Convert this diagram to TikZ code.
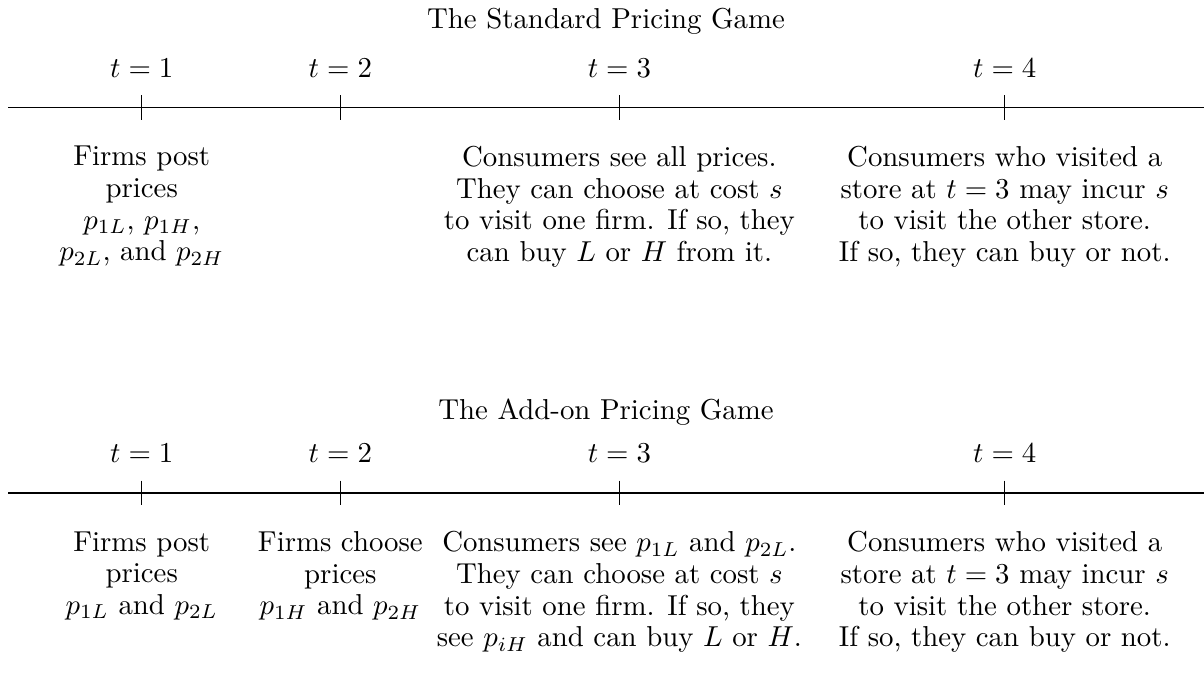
\documentclass[tikz,border=0pt]{standalone}
\usepackage{amsmath}
\usepackage{tikz}
\usetikzlibrary{positioning}

\begin{document}
\begin{tikzpicture}[
    every node/.style={align=center},
    stamp/.style={inner sep=0.333em},
    event/.style={anchor=north, align=center, font=\fontsize{10pt}{11pt}\selectfont},
    gametitle/.style={anchor=base},
    tickmark/.style={thin}
]
\useasboundingbox (-0.098,1.314) rectangle (14.59,-6.921);

% ---------- TOP TIMELINE (STANDARD GAME)
\node (std) [gametitle] at (7.295,0.97) {The Standard Pricing Game};

\coordinate (a0) at (0,0);
\coordinate (aEnd) at (14.59,0);
\coordinate (a1) at (1.631,0);
\coordinate (a2) at (4.054,0);
\coordinate (a3) at (7.458,0);
\coordinate (a4) at (12.159,0);

\draw[thin] (a0) -- (aEnd);
\draw[tickmark] ([yshift=0.15cm]a1) -- ([yshift=-0.15cm]a1);
\draw[tickmark] ([yshift=0.15cm]a2) -- ([yshift=-0.15cm]a2);
\draw[tickmark] ([yshift=0.15cm]a3) -- ([yshift=-0.15cm]a3);
\draw[tickmark] ([yshift=0.15cm]a4) -- ([yshift=-0.15cm]a4);

\node (la1) [stamp, above=0.245cm of a1] {$t=1$};
\node (la2) [stamp, above=0.245cm of a2] {$t=2$};
\node (la3) [stamp, above=0.245cm of a3] {$t=3$};
\node (la4) [stamp, above=0.245cm of a4] {$t=4$};

\node (ea1) [event, below=0.345cm of a1] {Firms post\\prices\\$p_{1L}$, $p_{1H}$,\\$p_{2L}$, and $p_{2H}$};
\node (ea3) [event, below=0.345cm of a3] {Consumers see all prices.\\They can choose at cost $s$\\to visit one firm. If so, they\\can buy $L$ or $H$ from it.};
\node (ea4) [event, below=0.345cm of a4] {Consumers who visited a\\store at $t=3$ may incur $s$\\to visit the other store.\\If so, they can buy or not.};

% ---------- BOTTOM TIMELINE (ADD-ON GAME)
\node (addon) [gametitle] at (7.295,-3.80) {The Add-on Pricing Game};

\coordinate (b0) at (0,-4.70);
\coordinate (bEnd) at (14.59,-4.70);
\coordinate (b1) at (1.631,-4.70);
\coordinate (b2) at (4.054,-4.70);
\coordinate (b3) at (7.458,-4.70);
\coordinate (b4) at (12.159,-4.70);

\draw[thin] (b0) -- (bEnd);
\draw[tickmark] ([yshift=0.15cm]b1) -- ([yshift=-0.15cm]b1);
\draw[tickmark] ([yshift=0.15cm]b2) -- ([yshift=-0.15cm]b2);
\draw[tickmark] ([yshift=0.15cm]b3) -- ([yshift=-0.15cm]b3);
\draw[tickmark] ([yshift=0.15cm]b4) -- ([yshift=-0.15cm]b4);

\node (lb1) [stamp, above=0.245cm of b1] {$t=1$};
\node (lb2) [stamp, above=0.245cm of b2] {$t=2$};
\node (lb3) [stamp, above=0.245cm of b3] {$t=3$};
\node (lb4) [stamp, above=0.245cm of b4] {$t=4$};

\node (eb1) [event, below=0.345cm of b1] {Firms post\\prices\\$p_{1L}$ and $p_{2L}$};
\node (eb2) [event, below=0.345cm of b2] {Firms choose\\prices\\$p_{1H}$ and $p_{2H}$};
\node (eb3) [event, below=0.345cm of b3] {Consumers see $p_{1L}$ and $p_{2L}$.\\They can choose at cost $s$\\to visit one firm. If so, they\\see $p_{iH}$ and can buy $L$ or $H$.};
\node (eb4) [event, below=0.345cm of b4] {Consumers who visited a\\store at $t=3$ may incur $s$\\to visit the other store.\\If so, they can buy or not.};

\end{tikzpicture}
\end{document}
